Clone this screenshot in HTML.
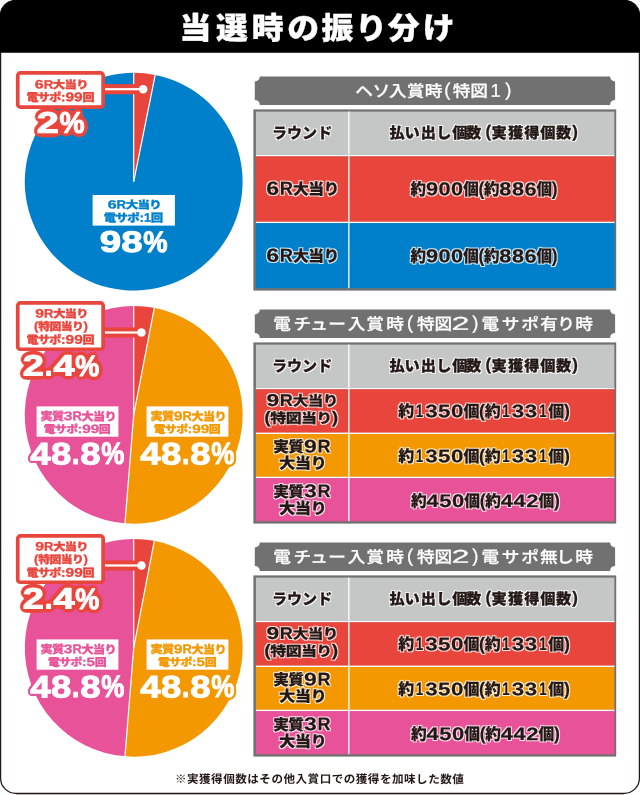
<!DOCTYPE html>
<html lang="ja">
<head>
<meta charset="utf-8">
<title>当選時の振り分け</title>
<style>
html,body{margin:0;padding:0;background:#fff;}
body{width:640px;height:795px;overflow:hidden;font-family:"Liberation Sans","Noto Sans CJK JP",sans-serif;}
svg{display:block;font-family:"Liberation Sans","Noto Sans CJK JP",sans-serif;}
text{white-space:pre;}
</style>
</head>
<body>
<svg width="640" height="795" viewBox="0 0 640 795">
<defs>
<filter id="oR" x="-15%" y="-30%" width="130%" height="160%" color-interpolation-filters="sRGB"><feGaussianBlur in="SourceAlpha" stdDeviation="2.5" result="b"/><feComponentTransfer in="b" result="t"><feFuncA type="linear" slope="18" intercept="-0.58"/></feComponentTransfer><feFlood flood-color="#e8453c"/><feComposite operator="in" in2="t" result="o"/><feMerge><feMergeNode in="o"/><feMergeNode in="SourceGraphic"/></feMerge></filter>
<filter id="oP" x="-15%" y="-30%" width="130%" height="160%" color-interpolation-filters="sRGB"><feGaussianBlur in="SourceAlpha" stdDeviation="1.8" result="b"/><feComponentTransfer in="b" result="t"><feFuncA type="linear" slope="18" intercept="-0.58"/></feComponentTransfer><feFlood flood-color="#e85298"/><feComposite operator="in" in2="t" result="o"/><feMerge><feMergeNode in="o"/><feMergeNode in="SourceGraphic"/></feMerge></filter>
<filter id="oO" x="-15%" y="-30%" width="130%" height="160%" color-interpolation-filters="sRGB"><feGaussianBlur in="SourceAlpha" stdDeviation="1.8" result="b"/><feComponentTransfer in="b" result="t"><feFuncA type="linear" slope="18" intercept="-0.58"/></feComponentTransfer><feFlood flood-color="#f39800"/><feComposite operator="in" in2="t" result="o"/><feMerge><feMergeNode in="o"/><feMergeNode in="SourceGraphic"/></feMerge></filter>
<filter id="ow" x="-2%" y="-2%" width="104%" height="104%" color-interpolation-filters="sRGB"><feMorphology in="SourceAlpha" operator="dilate" radius="0.5" result="d"/><feGaussianBlur in="d" stdDeviation="0.4" result="b"/><feFlood flood-color="#fff" flood-opacity="0.85"/><feComposite operator="in" in2="b" result="o"/><feMerge><feMergeNode in="o"/><feMergeNode in="SourceGraphic"/></feMerge></filter>
</defs>
<rect x="16" y="794" width="608" height="1" fill="#b4b4b4"/>
<rect x="0.6" y="0.6" width="638.8" height="792.7" rx="15" fill="#fff" stroke="#231815" stroke-width="1.25"/>
<path d="M0 52.8V15.5A15.5 15.5 0 0 1 15.5 0H624.5A15.5 15.5 0 0 1 640 15.5V52.8Z" fill="#000"/>
<text y="39" fill="#fff" font-size="30.6" font-weight="900" stroke="#fff" stroke-width="0.4" stroke-linejoin="round" transform="rotate(0.03 317.18 39)"><tspan x="179.49" y="39" textLength="31.82" lengthAdjust="spacingAndGlyphs">当</tspan><tspan x="215.95" y="39" textLength="31.82" lengthAdjust="spacingAndGlyphs">選</tspan><tspan x="251.75" y="39" textLength="31.82" lengthAdjust="spacingAndGlyphs">時</tspan><tspan x="287.39" y="39" textLength="31.82" lengthAdjust="spacingAndGlyphs">の</tspan><tspan x="321.51" y="39" textLength="31.82" lengthAdjust="spacingAndGlyphs">振</tspan><tspan x="355.26" y="39" textLength="31.82" lengthAdjust="spacingAndGlyphs">り</tspan><tspan x="387.88" y="39" textLength="31.82" lengthAdjust="spacingAndGlyphs">分</tspan><tspan x="422.8" y="39" textLength="31.82" lengthAdjust="spacingAndGlyphs">け</tspan></text>
<path d="M133.7 181.7L155.22 74.95A108.9 108.9 0 1 1 133.7 72.8Z" fill="#0080cb"/>
<path d="M133.7 181.7L133.7 72.8A108.9 108.9 0 0 1 155.22 74.95Z" fill="#e8453c"/>
<line x1="133.7" y1="181.7" x2="133.7" y2="72.3" stroke="#fff" stroke-width="1.2"/>
<line x1="133.7" y1="181.7" x2="155.32" y2="74.46" stroke="#fff" stroke-width="1.2"/>
<rect x="100" y="84.1" width="43.2" height="10.2" fill="#e8453c"/>
<circle cx="143.2" cy="89.2" r="6.3" fill="#e8453c"/>
<rect x="100" y="88.1" width="43.2" height="2.2" fill="#fff"/>
<circle cx="143.2" cy="89.2" r="4.3" fill="#fff"/>
<rect x="17.75" y="72.95" width="85.4" height="34.1" rx="2.6" fill="#fff" stroke="#e8453c" stroke-width="3.7"/>
<text y="88.54" fill="#e8453c" stroke="#e8453c" stroke-width="0.3" transform="rotate(0.03 61.53 88.54)"><tspan x="34.8" font-size="12.16" font-weight="700" textLength="8.87" lengthAdjust="spacingAndGlyphs">6</tspan><tspan x="43.67" font-size="12.16" font-weight="700" textLength="9.51" lengthAdjust="spacingAndGlyphs">R</tspan><tspan x="52.84" font-size="10.86" font-weight="900" letter-spacing="-0.6" textLength="35.08" lengthAdjust="spacingAndGlyphs">大当り</tspan></text>
<text y="101.3" fill="#e8453c" stroke="#e8453c" stroke-width="0.3" transform="rotate(0.03 60.44 101.3)"><tspan x="26.4" font-size="11.18" font-weight="900" letter-spacing="-0.6" textLength="34.24" lengthAdjust="spacingAndGlyphs">電サポ</tspan><tspan x="60.96" font-size="12.52" font-weight="700" textLength="4.5" lengthAdjust="spacingAndGlyphs">:</tspan><tspan x="65.46" font-size="12.52" font-weight="700" textLength="17.28" lengthAdjust="spacingAndGlyphs">99</tspan><tspan x="82.42" font-size="11.18" font-weight="900" letter-spacing="-0.6" textLength="11.41" lengthAdjust="spacingAndGlyphs">回</tspan></text>
<g filter="url(#oR)"><text y="132.8" fill="#fff" stroke="#fff" stroke-width="1" stroke-linejoin="round" transform="rotate(0.03 60.84 132.8)"><tspan x="36.82" font-size="29.66" font-weight="700" letter-spacing="0.25" textLength="22.34" lengthAdjust="spacingAndGlyphs">2</tspan><tspan x="59.46" font-size="29.66" font-weight="700" letter-spacing="1" textLength="26.04" lengthAdjust="spacingAndGlyphs">%</tspan></text></g>
<rect x="92.6" y="195" width="82.3" height="30.6" fill="#fff"/>
<text y="208.46" fill="#0080cb" stroke="#0080cb" stroke-width="0.3" transform="rotate(0.03 134.58 208.46)"><tspan x="107.7" font-size="11.87" font-weight="700" textLength="8.93" lengthAdjust="spacingAndGlyphs">6</tspan><tspan x="116.62" font-size="11.87" font-weight="700" textLength="9.58" lengthAdjust="spacingAndGlyphs">R</tspan><tspan x="125.85" font-size="10.6" font-weight="900" letter-spacing="-0.6" textLength="35.27" lengthAdjust="spacingAndGlyphs">大当り</tspan></text>
<text y="221.71" fill="#0080cb" stroke="#0080cb" stroke-width="0.3" transform="rotate(0.03 133.44 221.71)"><tspan x="103.78" font-size="11.12" font-weight="900" letter-spacing="-0.6" textLength="35.29" lengthAdjust="spacingAndGlyphs">電サポ</tspan><tspan x="139.4" font-size="12.46" font-weight="700" textLength="4.64" lengthAdjust="spacingAndGlyphs">:</tspan><tspan x="144.04" font-size="12.46" font-weight="700" textLength="6.97" lengthAdjust="spacingAndGlyphs">1</tspan><tspan x="150.67" font-size="11.12" font-weight="900" letter-spacing="-0.6" textLength="11.76" lengthAdjust="spacingAndGlyphs">回</tspan></text>
<text y="251.9" fill="#fff" stroke="#fff" stroke-width="1" stroke-linejoin="round" transform="rotate(0.03 133.84 251.9)"><tspan x="99.76" font-size="29.66" font-weight="700" letter-spacing="0.25" textLength="43.27" lengthAdjust="spacingAndGlyphs">98</tspan><tspan x="143.33" font-size="29.66" font-weight="700" letter-spacing="1" textLength="25.22" lengthAdjust="spacingAndGlyphs">%</tspan></text>
<path d="M259.8 76.4H610.1A5 5 0 0 0 615.1 81.4V99.9A5 5 0 0 0 610.1 104.9H259.8A5 5 0 0 0 254.8 99.9V81.4A5 5 0 0 0 259.8 76.4Z" fill="#727171"/>
<text y="96.8" fill="#fff" font-size="16.2" font-weight="500" stroke="#fff" stroke-width="0.25" transform="rotate(0.03 436 96.8)"><tspan x="355.18" y="96.8" textLength="17.66" lengthAdjust="spacingAndGlyphs">ヘ</tspan><tspan x="372.64" y="96.8" textLength="17.66" lengthAdjust="spacingAndGlyphs">ソ</tspan><tspan x="389.05" y="96.8" textLength="17.66" lengthAdjust="spacingAndGlyphs">入</tspan><tspan x="406.77" y="96.8" textLength="17.66" lengthAdjust="spacingAndGlyphs">賞</tspan><tspan x="424.66" y="96.8" textLength="17.66" lengthAdjust="spacingAndGlyphs">時</tspan><tspan x="444.22" y="95.9" font-size="18.5" font-weight="400" textLength="6.16" lengthAdjust="spacingAndGlyphs">(</tspan><tspan x="452.68" y="96.8" textLength="17.66" lengthAdjust="spacingAndGlyphs">特</tspan><tspan x="470.35" y="96.8" textLength="17.66" lengthAdjust="spacingAndGlyphs">図</tspan><tspan x="490.61" y="96.8" font-size="18.5" font-weight="400" textLength="10.29" lengthAdjust="spacingAndGlyphs">1</tspan><tspan x="505.33" y="95.9" font-size="18.5" font-weight="400" textLength="6.16" lengthAdjust="spacingAndGlyphs">)</tspan></text>
<rect x="253.4" y="109.4" width="362.8" height="181.2" fill="#727171"/>
<rect x="255.9" y="154.5" width="358.5" height="2.1" fill="#fff"/>
<rect x="255.9" y="221.3" width="358.5" height="2.1" fill="#fff"/>
<rect x="255.9" y="111.6" width="358.5" height="43.2" fill="#c5c6c6"/>
<rect x="255.9" y="156.3" width="358.5" height="65.3" fill="#e8453c"/>
<rect x="255.9" y="223.1" width="358.5" height="65.1" fill="#0080cb"/>
<rect x="348.2" y="111.6" width="1.3" height="176.6" fill="#fff"/>
<g filter="url(#ow)">
<text y="194.58" fill="#231815" stroke="#231815" stroke-width="0.2" stroke-linejoin="round" transform="rotate(0.03 302.42 194.58)"><tspan x="266.23" y="194.88" font-size="18.95" font-weight="700" letter-spacing="0.6" textLength="13.63" lengthAdjust="spacingAndGlyphs">6</tspan><tspan x="279.78" y="194.88" font-size="18.95" font-weight="700" letter-spacing="0.6" textLength="13.83" lengthAdjust="spacingAndGlyphs">R</tspan><tspan x="293.02" y="194.58" font-size="15.53" font-weight="900" letter-spacing="-0.6" textLength="45.66" lengthAdjust="spacingAndGlyphs">大当り</tspan></text>
<text y="195.06" fill="#231815" stroke="#231815" stroke-width="0.2" stroke-linejoin="round" transform="rotate(0.03 484.18 195.06)"><tspan x="410.59" y="195.06" font-size="16.68" font-weight="900" letter-spacing="-0.6" textLength="14.95" lengthAdjust="spacingAndGlyphs">約</tspan><tspan x="426.06" y="195.36" font-size="18.69" font-weight="700" letter-spacing="0.4" textLength="37.62" lengthAdjust="spacingAndGlyphs">900</tspan><tspan x="463.16" y="195.06" font-size="16.68" font-weight="900" letter-spacing="-0.6" textLength="14.95" lengthAdjust="spacingAndGlyphs">個</tspan><tspan x="478.39" y="195.06" font-size="18.69" font-weight="700" textLength="5.78" lengthAdjust="spacingAndGlyphs">(</tspan><tspan x="483.9" y="195.06" font-size="16.68" font-weight="900" letter-spacing="-0.6" textLength="14.95" lengthAdjust="spacingAndGlyphs">約</tspan><tspan x="499.36" y="195.36" font-size="18.69" font-weight="700" letter-spacing="0.4" textLength="37.62" lengthAdjust="spacingAndGlyphs">886</tspan><tspan x="536.47" y="195.06" font-size="16.68" font-weight="900" letter-spacing="-0.6" textLength="14.95" lengthAdjust="spacingAndGlyphs">個</tspan><tspan x="551.69" y="195.06" font-size="18.69" font-weight="700" textLength="5.78" lengthAdjust="spacingAndGlyphs">)</tspan></text>
<text y="261.58" fill="#231815" stroke="#231815" stroke-width="0.2" stroke-linejoin="round" transform="rotate(0.03 302.42 261.58)"><tspan x="266.23" y="261.88" font-size="18.95" font-weight="700" letter-spacing="0.6" textLength="13.63" lengthAdjust="spacingAndGlyphs">6</tspan><tspan x="279.78" y="261.88" font-size="18.95" font-weight="700" letter-spacing="0.6" textLength="13.83" lengthAdjust="spacingAndGlyphs">R</tspan><tspan x="293.02" y="261.58" font-size="15.53" font-weight="900" letter-spacing="-0.6" textLength="45.66" lengthAdjust="spacingAndGlyphs">大当り</tspan></text>
<text y="262.06" fill="#231815" stroke="#231815" stroke-width="0.2" stroke-linejoin="round" transform="rotate(0.03 484.18 262.06)"><tspan x="410.59" y="262.06" font-size="16.68" font-weight="900" letter-spacing="-0.6" textLength="14.95" lengthAdjust="spacingAndGlyphs">約</tspan><tspan x="426.06" y="262.36" font-size="18.69" font-weight="700" letter-spacing="0.4" textLength="37.62" lengthAdjust="spacingAndGlyphs">900</tspan><tspan x="463.16" y="262.06" font-size="16.68" font-weight="900" letter-spacing="-0.6" textLength="14.95" lengthAdjust="spacingAndGlyphs">個</tspan><tspan x="478.39" y="262.06" font-size="18.69" font-weight="700" textLength="5.78" lengthAdjust="spacingAndGlyphs">(</tspan><tspan x="483.9" y="262.06" font-size="16.68" font-weight="900" letter-spacing="-0.6" textLength="14.95" lengthAdjust="spacingAndGlyphs">約</tspan><tspan x="499.36" y="262.36" font-size="18.69" font-weight="700" letter-spacing="0.4" textLength="37.62" lengthAdjust="spacingAndGlyphs">886</tspan><tspan x="536.47" y="262.06" font-size="16.68" font-weight="900" letter-spacing="-0.6" textLength="14.95" lengthAdjust="spacingAndGlyphs">個</tspan><tspan x="551.69" y="262.06" font-size="18.69" font-weight="700" textLength="5.78" lengthAdjust="spacingAndGlyphs">)</tspan></text>
<text y="138.6" fill="#231815" stroke="#231815" stroke-width="0.2" stroke-linejoin="round" transform="rotate(0.03 302.11 138.6)"><tspan x="272.02" y="138.6" font-size="15.32" font-weight="900" textLength="60.17" lengthAdjust="spacingAndGlyphs">ラウンド</tspan></text>
<text y="138.3" fill="#231815" font-size="15.2" font-weight="900" stroke="#231815" stroke-width="0.3" stroke-linejoin="round" transform="rotate(0.03 485.85 138.3)"><tspan x="389.44 404.52 420.76 436.37 452.14 466.08" y="138.3">払い出し個数</tspan><tspan x="485.47" y="137.1" font-size="17" font-weight="700" textLength="5.66" lengthAdjust="spacingAndGlyphs">(</tspan><tspan x="491.52 507.88 524.27 540.34 555.98" y="138.3">実獲得個数</tspan><tspan x="572.18" y="137.1" font-size="17" font-weight="700" textLength="5.66" lengthAdjust="spacingAndGlyphs">)</tspan></text>
</g>
<path d="M133.7 414.8L124.97 523.35A108.9 108.9 0 0 1 133.7 305.9Z" fill="#e85298"/>
<path d="M133.7 414.8L154.29 307.86A108.9 108.9 0 0 1 124.97 523.35Z" fill="#f39800"/>
<path d="M133.7 414.8L133.7 305.9A108.9 108.9 0 0 1 154.29 307.86Z" fill="#e8453c"/>
<line x1="133.7" y1="414.8" x2="133.7" y2="305.4" stroke="#fff" stroke-width="1.2"/>
<line x1="133.7" y1="414.8" x2="154.39" y2="307.37" stroke="#fff" stroke-width="1.2"/>
<line x1="133.7" y1="414.8" x2="124.93" y2="523.85" stroke="#fff" stroke-width="1.2"/>
<rect x="100" y="327.4" width="41.4" height="10.2" fill="#e8453c"/>
<circle cx="141.4" cy="332.5" r="6.3" fill="#e8453c"/>
<rect x="100" y="331.4" width="41.4" height="2.2" fill="#fff"/>
<circle cx="141.4" cy="332.5" r="4.3" fill="#fff"/>
<rect x="17.75" y="302.95" width="85.4" height="46.3" rx="2.6" fill="#fff" stroke="#e8453c" stroke-width="3.7"/>
<text y="317.53" fill="#e8453c" stroke="#e8453c" stroke-width="0.3" transform="rotate(0.03 61.8 317.53)"><tspan x="35.35" font-size="12.22" font-weight="700" textLength="8.77" lengthAdjust="spacingAndGlyphs">9</tspan><tspan x="44.12" font-size="12.22" font-weight="700" textLength="9.41" lengthAdjust="spacingAndGlyphs">R</tspan><tspan x="53.19" font-size="10.91" font-weight="900" letter-spacing="-0.6" textLength="34.72" lengthAdjust="spacingAndGlyphs">大当り</tspan></text>
<text y="330.33" fill="#e8453c" stroke="#e8453c" stroke-width="0.3" transform="rotate(0.03 61 330.33)"><tspan x="34.14" font-size="12.22" font-weight="700" textLength="4.43" lengthAdjust="spacingAndGlyphs">(</tspan><tspan x="38.24" font-size="10.91" font-weight="900" letter-spacing="-0.6" textLength="44.88" lengthAdjust="spacingAndGlyphs">特図当り</tspan><tspan x="83.44" font-size="12.22" font-weight="700" textLength="4.43" lengthAdjust="spacingAndGlyphs">)</tspan></text>
<text y="343.8" fill="#e8453c" stroke="#e8453c" stroke-width="0.3" transform="rotate(0.03 60.49 343.8)"><tspan x="26.5" font-size="11.18" font-weight="900" letter-spacing="-0.6" textLength="34.19" lengthAdjust="spacingAndGlyphs">電サポ</tspan><tspan x="61.01" font-size="12.52" font-weight="700" textLength="4.49" lengthAdjust="spacingAndGlyphs">:</tspan><tspan x="65.51" font-size="12.52" font-weight="700" textLength="17.26" lengthAdjust="spacingAndGlyphs">99</tspan><tspan x="82.44" font-size="11.18" font-weight="900" letter-spacing="-0.6" textLength="11.4" lengthAdjust="spacingAndGlyphs">回</tspan></text>
<g filter="url(#oR)"><text y="375.51" fill="#fff" stroke="#fff" stroke-width="1" stroke-linejoin="round" transform="rotate(0.03 61.2 375.51)"><tspan x="22.77" font-size="29.38" font-weight="700" letter-spacing="0.25" textLength="21.44" lengthAdjust="spacingAndGlyphs">2</tspan><tspan x="44.81" font-size="29.38" font-weight="700" letter-spacing="1.6" textLength="9.29" lengthAdjust="spacingAndGlyphs">.</tspan><tspan x="53.5" font-size="29.38" font-weight="700" letter-spacing="0.25" textLength="21.44" lengthAdjust="spacingAndGlyphs">4</tspan><tspan x="75.24" font-size="29.38" font-weight="700" letter-spacing="1" textLength="25" lengthAdjust="spacingAndGlyphs">%</tspan></text></g>
<rect x="36.6" y="406.4" width="81.8" height="30.3" fill="#fff"/>
<text y="420.39" fill="#e85298" stroke="#e85298" stroke-width="0.3" transform="rotate(0.03 78.63 420.39)"><tspan x="40.48" font-size="11.33" font-weight="900" letter-spacing="-0.6" textLength="23.03" lengthAdjust="spacingAndGlyphs">実質</tspan><tspan x="63.84" font-size="12.69" font-weight="700" textLength="8.71" lengthAdjust="spacingAndGlyphs">3</tspan><tspan x="72.55" font-size="12.69" font-weight="700" textLength="9.34" lengthAdjust="spacingAndGlyphs">R</tspan><tspan x="81.57" font-size="11.33" font-weight="900" letter-spacing="-0.6" textLength="34.55" lengthAdjust="spacingAndGlyphs">大当り</tspan></text>
<text y="432.94" fill="#e85298" stroke="#e85298" stroke-width="0.3" transform="rotate(0.03 77.24 432.94)"><tspan x="43.81" font-size="10.81" font-weight="900" letter-spacing="-0.6" textLength="33.6" lengthAdjust="spacingAndGlyphs">電サポ</tspan><tspan x="77.73" font-size="12.1" font-weight="700" textLength="4.42" lengthAdjust="spacingAndGlyphs">:</tspan><tspan x="82.15" font-size="12.1" font-weight="700" textLength="16.99" lengthAdjust="spacingAndGlyphs">99</tspan><tspan x="98.81" font-size="10.81" font-weight="900" letter-spacing="-0.6" textLength="11.2" lengthAdjust="spacingAndGlyphs">回</tspan></text>
<g filter="url(#oP)"><text y="464.49" fill="#fff" stroke="#fff" stroke-width="1" stroke-linejoin="round" transform="rotate(0.03 77.51 464.49)"><tspan x="30.35" font-size="31.21" font-weight="700" letter-spacing="0.25" textLength="41.19" lengthAdjust="spacingAndGlyphs">48</tspan><tspan x="72.08" font-size="31.21" font-weight="700" letter-spacing="1.6" textLength="8.84" lengthAdjust="spacingAndGlyphs">.</tspan><tspan x="80.38" font-size="31.21" font-weight="700" letter-spacing="0.25" textLength="20.59" lengthAdjust="spacingAndGlyphs">8</tspan><tspan x="101.25" font-size="31.21" font-weight="700" letter-spacing="1" textLength="23.98" lengthAdjust="spacingAndGlyphs">%</tspan></text></g>
<rect x="146.6" y="406.4" width="81.8" height="30.3" fill="#fff"/>
<text y="420.39" fill="#f39800" stroke="#f39800" stroke-width="0.3" transform="rotate(0.03 188.63 420.39)"><tspan x="150.48" font-size="11.33" font-weight="900" letter-spacing="-0.6" textLength="23.03" lengthAdjust="spacingAndGlyphs">実質</tspan><tspan x="173.84" font-size="12.69" font-weight="700" textLength="8.71" lengthAdjust="spacingAndGlyphs">9</tspan><tspan x="182.55" font-size="12.69" font-weight="700" textLength="9.34" lengthAdjust="spacingAndGlyphs">R</tspan><tspan x="191.57" font-size="11.33" font-weight="900" letter-spacing="-0.6" textLength="34.55" lengthAdjust="spacingAndGlyphs">大当り</tspan></text>
<text y="432.94" fill="#f39800" stroke="#f39800" stroke-width="0.3" transform="rotate(0.03 187.24 432.94)"><tspan x="153.81" font-size="10.81" font-weight="900" letter-spacing="-0.6" textLength="33.6" lengthAdjust="spacingAndGlyphs">電サポ</tspan><tspan x="187.73" font-size="12.1" font-weight="700" textLength="4.42" lengthAdjust="spacingAndGlyphs">:</tspan><tspan x="192.15" font-size="12.1" font-weight="700" textLength="16.99" lengthAdjust="spacingAndGlyphs">99</tspan><tspan x="208.81" font-size="10.81" font-weight="900" letter-spacing="-0.6" textLength="11.2" lengthAdjust="spacingAndGlyphs">回</tspan></text>
<g filter="url(#oO)"><text y="464.49" fill="#fff" stroke="#fff" stroke-width="1" stroke-linejoin="round" transform="rotate(0.03 187.51 464.49)"><tspan x="140.35" font-size="31.21" font-weight="700" letter-spacing="0.25" textLength="41.19" lengthAdjust="spacingAndGlyphs">48</tspan><tspan x="182.08" font-size="31.21" font-weight="700" letter-spacing="1.6" textLength="8.84" lengthAdjust="spacingAndGlyphs">.</tspan><tspan x="190.38" font-size="31.21" font-weight="700" letter-spacing="0.25" textLength="20.59" lengthAdjust="spacingAndGlyphs">8</tspan><tspan x="211.25" font-size="31.21" font-weight="700" letter-spacing="1" textLength="23.98" lengthAdjust="spacingAndGlyphs">%</tspan></text></g>
<path d="M259.8 309.4H610.1A5 5 0 0 0 615.1 314.4V332.9A5 5 0 0 0 610.1 337.9H259.8A5 5 0 0 0 254.8 332.9V314.4A5 5 0 0 0 259.8 309.4Z" fill="#727171"/>
<text y="329.8" fill="#fff" font-size="16.2" font-weight="500" stroke="#fff" stroke-width="0.25" transform="rotate(0.03 433.5 329.8)"><tspan x="273.34" y="329.8" textLength="17.66" lengthAdjust="spacingAndGlyphs">電</tspan><tspan x="293.63" y="329.8" textLength="17.66" lengthAdjust="spacingAndGlyphs">チ</tspan><tspan x="310.23" y="329.8" textLength="17.66" lengthAdjust="spacingAndGlyphs">ュ</tspan><tspan x="328.17" y="329.8" textLength="17.66" lengthAdjust="spacingAndGlyphs">ー</tspan><tspan x="347.85" y="329.8" textLength="17.66" lengthAdjust="spacingAndGlyphs">入</tspan><tspan x="366.37" y="329.8" textLength="17.66" lengthAdjust="spacingAndGlyphs">賞</tspan><tspan x="386.26" y="329.8" textLength="17.66" lengthAdjust="spacingAndGlyphs">時</tspan><tspan x="407.12" y="328.9" font-size="18.5" font-weight="400" textLength="6.16" lengthAdjust="spacingAndGlyphs">(</tspan><tspan x="416.98" y="329.8" textLength="17.66" lengthAdjust="spacingAndGlyphs">特</tspan><tspan x="434.55" y="329.8" textLength="17.66" lengthAdjust="spacingAndGlyphs">図</tspan><tspan x="451.62" y="329.8" font-size="18.5" font-weight="400" textLength="18.01" lengthAdjust="spacingAndGlyphs">2</tspan><tspan x="472.23" y="328.9" font-size="18.5" font-weight="400" textLength="6.16" lengthAdjust="spacingAndGlyphs">)</tspan><tspan x="481.54" y="329.8" textLength="17.66" lengthAdjust="spacingAndGlyphs">電</tspan><tspan x="501.78" y="329.8" textLength="17.66" lengthAdjust="spacingAndGlyphs">サ</tspan><tspan x="521.18" y="329.8" textLength="17.66" lengthAdjust="spacingAndGlyphs">ポ</tspan><tspan x="540.17" y="329.8" textLength="17.66" lengthAdjust="spacingAndGlyphs">有</tspan><tspan x="557.38" y="329.8" textLength="17.66" lengthAdjust="spacingAndGlyphs">り</tspan><tspan x="575.36" y="329.8" textLength="17.66" lengthAdjust="spacingAndGlyphs">時</tspan></text>
<rect x="253.4" y="342.4" width="362.8" height="181.2" fill="#727171"/>
<rect x="255.9" y="387.5" width="358.5" height="2.1" fill="#fff"/>
<rect x="255.9" y="432.2" width="358.5" height="2.1" fill="#fff"/>
<rect x="255.9" y="476.3" width="358.5" height="2.1" fill="#fff"/>
<rect x="255.9" y="344.6" width="358.5" height="43.2" fill="#c5c6c6"/>
<rect x="255.9" y="389.2" width="358.5" height="43.3" fill="#e8453c"/>
<rect x="255.9" y="434" width="358.5" height="42.6" fill="#f39800"/>
<rect x="255.9" y="478.1" width="358.5" height="43.1" fill="#e85298"/>
<rect x="348.2" y="344.6" width="1.3" height="176.6" fill="#fff"/>
<g filter="url(#ow)">
<text y="405.72" fill="#231815" stroke="#231815" stroke-width="0.2" stroke-linejoin="round" transform="rotate(0.03 302.04 405.72)"><tspan x="266.4" y="406.02" font-size="17.15" font-weight="700" letter-spacing="0.6" textLength="13.52" lengthAdjust="spacingAndGlyphs">9</tspan><tspan x="279.83" y="406.02" font-size="17.15" font-weight="700" letter-spacing="0.6" textLength="13.7" lengthAdjust="spacingAndGlyphs">R</tspan><tspan x="292.89" y="405.72" font-size="14.06" font-weight="900" letter-spacing="-0.6" textLength="44.85" lengthAdjust="spacingAndGlyphs">大当り</tspan></text>
<text y="423.06" fill="#231815" stroke="#231815" stroke-width="0.2" stroke-linejoin="round" transform="rotate(0.03 301.25 423.06)"><tspan x="264.23" y="423.06" font-size="16.64" font-weight="700" textLength="6.49" lengthAdjust="spacingAndGlyphs">(</tspan><tspan x="270.36" y="423.06" font-size="13.64" font-weight="900" letter-spacing="-0.6" textLength="61.08" lengthAdjust="spacingAndGlyphs">特図当り</tspan><tspan x="331.8" y="423.06" font-size="16.64" font-weight="700" textLength="6.49" lengthAdjust="spacingAndGlyphs">)</tspan></text>
<text y="416.92" fill="#231815" stroke="#231815" stroke-width="0.2" stroke-linejoin="round" transform="rotate(0.03 484.17 416.92)"><tspan x="398.14" y="416.92" font-size="16.16" font-weight="900" letter-spacing="-0.6" textLength="15.37" lengthAdjust="spacingAndGlyphs">約</tspan><tspan x="415.66" y="417.22" font-size="18.1" font-weight="700" letter-spacing="5" textLength="11.16" lengthAdjust="spacingAndGlyphs">1</tspan><tspan x="425.21" y="417.22" font-size="18.1" font-weight="700" letter-spacing="0.4" textLength="38.77" lengthAdjust="spacingAndGlyphs">350</tspan><tspan x="463.43" y="416.92" font-size="16.16" font-weight="900" letter-spacing="-0.6" textLength="15.37" lengthAdjust="spacingAndGlyphs">個</tspan><tspan x="479.1" y="416.92" font-size="18.1" font-weight="700" textLength="5.95" lengthAdjust="spacingAndGlyphs">(</tspan><tspan x="484.75" y="416.92" font-size="16.16" font-weight="900" letter-spacing="-0.6" textLength="15.37" lengthAdjust="spacingAndGlyphs">約</tspan><tspan x="502.27" y="417.22" font-size="18.1" font-weight="700" letter-spacing="5" textLength="11.16" lengthAdjust="spacingAndGlyphs">1</tspan><tspan x="511.83" y="417.22" font-size="18.1" font-weight="700" letter-spacing="0.4" textLength="25.84" lengthAdjust="spacingAndGlyphs">33</tspan><tspan x="539.27" y="417.22" font-size="18.1" font-weight="700" letter-spacing="5" textLength="11.16" lengthAdjust="spacingAndGlyphs">1</tspan><tspan x="548.29" y="416.92" font-size="16.16" font-weight="900" letter-spacing="-0.6" textLength="15.37" lengthAdjust="spacingAndGlyphs">個</tspan><tspan x="563.95" y="416.92" font-size="18.1" font-weight="700" textLength="5.95" lengthAdjust="spacingAndGlyphs">)</tspan></text>
<text y="452.12" fill="#231815" stroke="#231815" stroke-width="0.2" stroke-linejoin="round" transform="rotate(0.03 302.27 452.12)"><tspan x="273.23" y="452.12" font-size="15.11" font-weight="900" letter-spacing="-0.6" textLength="30.17" lengthAdjust="spacingAndGlyphs">実質</tspan><tspan x="304.09" y="452.42" font-size="18.43" font-weight="700" letter-spacing="0.6" textLength="13.54" lengthAdjust="spacingAndGlyphs">9</tspan><tspan x="317.55" y="452.42" font-size="18.43" font-weight="700" letter-spacing="0.6" textLength="13.74" lengthAdjust="spacingAndGlyphs">R</tspan></text>
<text y="468.52" fill="#231815" stroke="#231815" stroke-width="0.2" stroke-linejoin="round" transform="rotate(0.03 302.95 468.52)"><tspan x="279.13" y="468.52" font-size="15.11" font-weight="900" letter-spacing="-0.6" textLength="47" lengthAdjust="spacingAndGlyphs">大当り</tspan></text>
<text y="461.92" fill="#231815" stroke="#231815" stroke-width="0.2" stroke-linejoin="round" transform="rotate(0.03 484.17 461.92)"><tspan x="398.14" y="461.92" font-size="16.16" font-weight="900" letter-spacing="-0.6" textLength="15.37" lengthAdjust="spacingAndGlyphs">約</tspan><tspan x="415.66" y="462.22" font-size="18.1" font-weight="700" letter-spacing="5" textLength="11.16" lengthAdjust="spacingAndGlyphs">1</tspan><tspan x="425.21" y="462.22" font-size="18.1" font-weight="700" letter-spacing="0.4" textLength="38.77" lengthAdjust="spacingAndGlyphs">350</tspan><tspan x="463.43" y="461.92" font-size="16.16" font-weight="900" letter-spacing="-0.6" textLength="15.37" lengthAdjust="spacingAndGlyphs">個</tspan><tspan x="479.1" y="461.92" font-size="18.1" font-weight="700" textLength="5.95" lengthAdjust="spacingAndGlyphs">(</tspan><tspan x="484.75" y="461.92" font-size="16.16" font-weight="900" letter-spacing="-0.6" textLength="15.37" lengthAdjust="spacingAndGlyphs">約</tspan><tspan x="502.27" y="462.22" font-size="18.1" font-weight="700" letter-spacing="5" textLength="11.16" lengthAdjust="spacingAndGlyphs">1</tspan><tspan x="511.83" y="462.22" font-size="18.1" font-weight="700" letter-spacing="0.4" textLength="25.84" lengthAdjust="spacingAndGlyphs">33</tspan><tspan x="539.27" y="462.22" font-size="18.1" font-weight="700" letter-spacing="5" textLength="11.16" lengthAdjust="spacingAndGlyphs">1</tspan><tspan x="548.29" y="461.92" font-size="16.16" font-weight="900" letter-spacing="-0.6" textLength="15.37" lengthAdjust="spacingAndGlyphs">個</tspan><tspan x="563.95" y="461.92" font-size="18.1" font-weight="700" textLength="5.95" lengthAdjust="spacingAndGlyphs">)</tspan></text>
<text y="497.01" fill="#231815" stroke="#231815" stroke-width="0.2" stroke-linejoin="round" transform="rotate(0.03 302.27 497.01)"><tspan x="273.23" y="497.01" font-size="15.22" font-weight="900" letter-spacing="-0.6" textLength="30.18" lengthAdjust="spacingAndGlyphs">実質</tspan><tspan x="304.1" y="497.31" font-size="18.56" font-weight="700" letter-spacing="0.6" textLength="13.54" lengthAdjust="spacingAndGlyphs">3</tspan><tspan x="317.55" y="497.31" font-size="18.56" font-weight="700" letter-spacing="0.6" textLength="13.74" lengthAdjust="spacingAndGlyphs">R</tspan></text>
<text y="513.79" fill="#231815" stroke="#231815" stroke-width="0.2" stroke-linejoin="round" transform="rotate(0.03 302.95 513.79)"><tspan x="279.13" y="513.79" font-size="15.42" font-weight="900" letter-spacing="-0.6" textLength="47.01" lengthAdjust="spacingAndGlyphs">大当り</tspan></text>
<text y="506.81" fill="#231815" stroke="#231815" stroke-width="0.2" stroke-linejoin="round" transform="rotate(0.03 485.51 506.81)"><tspan x="410.94" y="506.81" font-size="16.26" font-weight="900" letter-spacing="-0.6" textLength="15.13" lengthAdjust="spacingAndGlyphs">約</tspan><tspan x="426.61" y="507.11" font-size="18.22" font-weight="700" letter-spacing="0.4" textLength="38.15" lengthAdjust="spacingAndGlyphs">450</tspan><tspan x="464.23" y="506.81" font-size="16.26" font-weight="900" letter-spacing="-0.6" textLength="15.13" lengthAdjust="spacingAndGlyphs">個</tspan><tspan x="479.65" y="506.81" font-size="18.22" font-weight="700" textLength="5.86" lengthAdjust="spacingAndGlyphs">(</tspan><tspan x="485.22" y="506.81" font-size="16.26" font-weight="900" letter-spacing="-0.6" textLength="15.13" lengthAdjust="spacingAndGlyphs">約</tspan><tspan x="500.88" y="507.11" font-size="18.22" font-weight="700" letter-spacing="0.4" textLength="38.15" lengthAdjust="spacingAndGlyphs">442</tspan><tspan x="538.51" y="506.81" font-size="16.26" font-weight="900" letter-spacing="-0.6" textLength="15.13" lengthAdjust="spacingAndGlyphs">個</tspan><tspan x="553.93" y="506.81" font-size="18.22" font-weight="700" textLength="5.86" lengthAdjust="spacingAndGlyphs">)</tspan></text>
<text y="371.6" fill="#231815" stroke="#231815" stroke-width="0.2" stroke-linejoin="round" transform="rotate(0.03 302.11 371.6)"><tspan x="272.02" y="371.6" font-size="15.32" font-weight="900" textLength="60.17" lengthAdjust="spacingAndGlyphs">ラウンド</tspan></text>
<text y="371.3" fill="#231815" font-size="15.2" font-weight="900" stroke="#231815" stroke-width="0.3" stroke-linejoin="round" transform="rotate(0.03 485.85 371.3)"><tspan x="389.44 404.52 420.76 436.37 452.14 466.08" y="371.3">払い出し個数</tspan><tspan x="485.47" y="370.1" font-size="17" font-weight="700" textLength="5.66" lengthAdjust="spacingAndGlyphs">(</tspan><tspan x="491.52 507.88 524.27 540.34 555.98" y="371.3">実獲得個数</tspan><tspan x="572.18" y="370.1" font-size="17" font-weight="700" textLength="5.66" lengthAdjust="spacingAndGlyphs">)</tspan></text>
</g>
<path d="M133.7 647.8L124.97 756.35A108.9 108.9 0 0 1 133.7 538.9Z" fill="#e85298"/>
<path d="M133.7 647.8L154.29 540.86A108.9 108.9 0 0 1 124.97 756.35Z" fill="#f39800"/>
<path d="M133.7 647.8L133.7 538.9A108.9 108.9 0 0 1 154.29 540.86Z" fill="#e8453c"/>
<line x1="133.7" y1="647.8" x2="133.7" y2="538.4" stroke="#fff" stroke-width="1.2"/>
<line x1="133.7" y1="647.8" x2="154.39" y2="540.37" stroke="#fff" stroke-width="1.2"/>
<line x1="133.7" y1="647.8" x2="124.93" y2="756.85" stroke="#fff" stroke-width="1.2"/>
<rect x="100" y="560.4" width="41.4" height="10.2" fill="#e8453c"/>
<circle cx="141.4" cy="565.5" r="6.3" fill="#e8453c"/>
<rect x="100" y="564.4" width="41.4" height="2.2" fill="#fff"/>
<circle cx="141.4" cy="565.5" r="4.3" fill="#fff"/>
<rect x="17.75" y="535.95" width="85.4" height="46.3" rx="2.6" fill="#fff" stroke="#e8453c" stroke-width="3.7"/>
<text y="550.53" fill="#e8453c" stroke="#e8453c" stroke-width="0.3" transform="rotate(0.03 61.8 550.53)"><tspan x="35.35" font-size="12.22" font-weight="700" textLength="8.77" lengthAdjust="spacingAndGlyphs">9</tspan><tspan x="44.12" font-size="12.22" font-weight="700" textLength="9.41" lengthAdjust="spacingAndGlyphs">R</tspan><tspan x="53.19" font-size="10.91" font-weight="900" letter-spacing="-0.6" textLength="34.72" lengthAdjust="spacingAndGlyphs">大当り</tspan></text>
<text y="563.33" fill="#e8453c" stroke="#e8453c" stroke-width="0.3" transform="rotate(0.03 61 563.33)"><tspan x="34.14" font-size="12.22" font-weight="700" textLength="4.43" lengthAdjust="spacingAndGlyphs">(</tspan><tspan x="38.24" font-size="10.91" font-weight="900" letter-spacing="-0.6" textLength="44.88" lengthAdjust="spacingAndGlyphs">特図当り</tspan><tspan x="83.44" font-size="12.22" font-weight="700" textLength="4.43" lengthAdjust="spacingAndGlyphs">)</tspan></text>
<text y="576.8" fill="#e8453c" stroke="#e8453c" stroke-width="0.3" transform="rotate(0.03 60.49 576.8)"><tspan x="26.5" font-size="11.18" font-weight="900" letter-spacing="-0.6" textLength="34.19" lengthAdjust="spacingAndGlyphs">電サポ</tspan><tspan x="61.01" font-size="12.52" font-weight="700" textLength="4.49" lengthAdjust="spacingAndGlyphs">:</tspan><tspan x="65.51" font-size="12.52" font-weight="700" textLength="17.26" lengthAdjust="spacingAndGlyphs">99</tspan><tspan x="82.44" font-size="11.18" font-weight="900" letter-spacing="-0.6" textLength="11.4" lengthAdjust="spacingAndGlyphs">回</tspan></text>
<g filter="url(#oR)"><text y="608.51" fill="#fff" stroke="#fff" stroke-width="1" stroke-linejoin="round" transform="rotate(0.03 61.2 608.51)"><tspan x="22.77" font-size="29.38" font-weight="700" letter-spacing="0.25" textLength="21.44" lengthAdjust="spacingAndGlyphs">2</tspan><tspan x="44.81" font-size="29.38" font-weight="700" letter-spacing="1.6" textLength="9.29" lengthAdjust="spacingAndGlyphs">.</tspan><tspan x="53.5" font-size="29.38" font-weight="700" letter-spacing="0.25" textLength="21.44" lengthAdjust="spacingAndGlyphs">4</tspan><tspan x="75.24" font-size="29.38" font-weight="700" letter-spacing="1" textLength="25" lengthAdjust="spacingAndGlyphs">%</tspan></text></g>
<rect x="36.6" y="639.4" width="81.8" height="30.3" fill="#fff"/>
<text y="653.39" fill="#e85298" stroke="#e85298" stroke-width="0.3" transform="rotate(0.03 78.63 653.39)"><tspan x="40.48" font-size="11.33" font-weight="900" letter-spacing="-0.6" textLength="23.03" lengthAdjust="spacingAndGlyphs">実質</tspan><tspan x="63.84" font-size="12.69" font-weight="700" textLength="8.71" lengthAdjust="spacingAndGlyphs">3</tspan><tspan x="72.55" font-size="12.69" font-weight="700" textLength="9.34" lengthAdjust="spacingAndGlyphs">R</tspan><tspan x="81.57" font-size="11.33" font-weight="900" letter-spacing="-0.6" textLength="34.55" lengthAdjust="spacingAndGlyphs">大当り</tspan></text>
<text y="665.94" fill="#e85298" stroke="#e85298" stroke-width="0.3" transform="rotate(0.03 77.34 665.94)"><tspan x="48.11" font-size="10.81" font-weight="900" letter-spacing="-0.6" textLength="33.65" lengthAdjust="spacingAndGlyphs">電サポ</tspan><tspan x="82.09" font-size="12.1" font-weight="700" textLength="4.43" lengthAdjust="spacingAndGlyphs">:</tspan><tspan x="86.52" font-size="12.1" font-weight="700" textLength="8.51" lengthAdjust="spacingAndGlyphs">5</tspan><tspan x="94.7" font-size="10.81" font-weight="900" letter-spacing="-0.6" textLength="11.22" lengthAdjust="spacingAndGlyphs">回</tspan></text>
<g filter="url(#oP)"><text y="697.49" fill="#fff" stroke="#fff" stroke-width="1" stroke-linejoin="round" transform="rotate(0.03 77.51 697.49)"><tspan x="30.35" font-size="31.21" font-weight="700" letter-spacing="0.25" textLength="41.19" lengthAdjust="spacingAndGlyphs">48</tspan><tspan x="72.08" font-size="31.21" font-weight="700" letter-spacing="1.6" textLength="8.84" lengthAdjust="spacingAndGlyphs">.</tspan><tspan x="80.38" font-size="31.21" font-weight="700" letter-spacing="0.25" textLength="20.59" lengthAdjust="spacingAndGlyphs">8</tspan><tspan x="101.25" font-size="31.21" font-weight="700" letter-spacing="1" textLength="23.98" lengthAdjust="spacingAndGlyphs">%</tspan></text></g>
<rect x="146.6" y="639.4" width="81.8" height="30.3" fill="#fff"/>
<text y="653.39" fill="#f39800" stroke="#f39800" stroke-width="0.3" transform="rotate(0.03 188.63 653.39)"><tspan x="150.48" font-size="11.33" font-weight="900" letter-spacing="-0.6" textLength="23.03" lengthAdjust="spacingAndGlyphs">実質</tspan><tspan x="173.84" font-size="12.69" font-weight="700" textLength="8.71" lengthAdjust="spacingAndGlyphs">9</tspan><tspan x="182.55" font-size="12.69" font-weight="700" textLength="9.34" lengthAdjust="spacingAndGlyphs">R</tspan><tspan x="191.57" font-size="11.33" font-weight="900" letter-spacing="-0.6" textLength="34.55" lengthAdjust="spacingAndGlyphs">大当り</tspan></text>
<text y="665.94" fill="#f39800" stroke="#f39800" stroke-width="0.3" transform="rotate(0.03 187.34 665.94)"><tspan x="158.11" font-size="10.81" font-weight="900" letter-spacing="-0.6" textLength="33.65" lengthAdjust="spacingAndGlyphs">電サポ</tspan><tspan x="192.09" font-size="12.1" font-weight="700" textLength="4.43" lengthAdjust="spacingAndGlyphs">:</tspan><tspan x="196.52" font-size="12.1" font-weight="700" textLength="8.51" lengthAdjust="spacingAndGlyphs">5</tspan><tspan x="204.7" font-size="10.81" font-weight="900" letter-spacing="-0.6" textLength="11.22" lengthAdjust="spacingAndGlyphs">回</tspan></text>
<g filter="url(#oO)"><text y="697.49" fill="#fff" stroke="#fff" stroke-width="1" stroke-linejoin="round" transform="rotate(0.03 187.51 697.49)"><tspan x="140.35" font-size="31.21" font-weight="700" letter-spacing="0.25" textLength="41.19" lengthAdjust="spacingAndGlyphs">48</tspan><tspan x="182.08" font-size="31.21" font-weight="700" letter-spacing="1.6" textLength="8.84" lengthAdjust="spacingAndGlyphs">.</tspan><tspan x="190.38" font-size="31.21" font-weight="700" letter-spacing="0.25" textLength="20.59" lengthAdjust="spacingAndGlyphs">8</tspan><tspan x="211.25" font-size="31.21" font-weight="700" letter-spacing="1" textLength="23.98" lengthAdjust="spacingAndGlyphs">%</tspan></text></g>
<path d="M259.8 542.4H610.1A5 5 0 0 0 615.1 547.4V565.9A5 5 0 0 0 610.1 570.9H259.8A5 5 0 0 0 254.8 565.9V547.4A5 5 0 0 0 259.8 542.4Z" fill="#727171"/>
<text y="562.8" fill="#fff" font-size="16.2" font-weight="500" stroke="#fff" stroke-width="0.25" transform="rotate(0.03 433.5 562.8)"><tspan x="273.34" y="562.8" textLength="17.66" lengthAdjust="spacingAndGlyphs">電</tspan><tspan x="293.63" y="562.8" textLength="17.66" lengthAdjust="spacingAndGlyphs">チ</tspan><tspan x="310.23" y="562.8" textLength="17.66" lengthAdjust="spacingAndGlyphs">ュ</tspan><tspan x="328.17" y="562.8" textLength="17.66" lengthAdjust="spacingAndGlyphs">ー</tspan><tspan x="347.85" y="562.8" textLength="17.66" lengthAdjust="spacingAndGlyphs">入</tspan><tspan x="366.37" y="562.8" textLength="17.66" lengthAdjust="spacingAndGlyphs">賞</tspan><tspan x="386.26" y="562.8" textLength="17.66" lengthAdjust="spacingAndGlyphs">時</tspan><tspan x="407.12" y="561.9" font-size="18.5" font-weight="400" textLength="6.16" lengthAdjust="spacingAndGlyphs">(</tspan><tspan x="416.98" y="562.8" textLength="17.66" lengthAdjust="spacingAndGlyphs">特</tspan><tspan x="434.55" y="562.8" textLength="17.66" lengthAdjust="spacingAndGlyphs">図</tspan><tspan x="451.62" y="562.8" font-size="18.5" font-weight="400" textLength="18.01" lengthAdjust="spacingAndGlyphs">2</tspan><tspan x="472.23" y="561.9" font-size="18.5" font-weight="400" textLength="6.16" lengthAdjust="spacingAndGlyphs">)</tspan><tspan x="481.54" y="562.8" textLength="17.66" lengthAdjust="spacingAndGlyphs">電</tspan><tspan x="501.78" y="562.8" textLength="17.66" lengthAdjust="spacingAndGlyphs">サ</tspan><tspan x="521.18" y="562.8" textLength="17.66" lengthAdjust="spacingAndGlyphs">ポ</tspan><tspan x="539.95" y="562.8" textLength="17.66" lengthAdjust="spacingAndGlyphs">無</tspan><tspan x="556.25" y="562.8" textLength="17.66" lengthAdjust="spacingAndGlyphs">し</tspan><tspan x="575.36" y="562.8" textLength="17.66" lengthAdjust="spacingAndGlyphs">時</tspan></text>
<rect x="253.4" y="575.4" width="362.8" height="181.2" fill="#727171"/>
<rect x="255.9" y="620.5" width="358.5" height="2.1" fill="#fff"/>
<rect x="255.9" y="665.2" width="358.5" height="2.1" fill="#fff"/>
<rect x="255.9" y="709.3" width="358.5" height="2.1" fill="#fff"/>
<rect x="255.9" y="577.6" width="358.5" height="43.2" fill="#c5c6c6"/>
<rect x="255.9" y="622.2" width="358.5" height="43.3" fill="#e8453c"/>
<rect x="255.9" y="667" width="358.5" height="42.6" fill="#f39800"/>
<rect x="255.9" y="711.1" width="358.5" height="43.1" fill="#e85298"/>
<rect x="348.2" y="577.6" width="1.3" height="176.6" fill="#fff"/>
<g filter="url(#ow)">
<text y="638.72" fill="#231815" stroke="#231815" stroke-width="0.2" stroke-linejoin="round" transform="rotate(0.03 302.04 638.72)"><tspan x="266.4" y="639.02" font-size="17.15" font-weight="700" letter-spacing="0.6" textLength="13.52" lengthAdjust="spacingAndGlyphs">9</tspan><tspan x="279.83" y="639.02" font-size="17.15" font-weight="700" letter-spacing="0.6" textLength="13.7" lengthAdjust="spacingAndGlyphs">R</tspan><tspan x="292.89" y="638.72" font-size="14.06" font-weight="900" letter-spacing="-0.6" textLength="44.85" lengthAdjust="spacingAndGlyphs">大当り</tspan></text>
<text y="656.06" fill="#231815" stroke="#231815" stroke-width="0.2" stroke-linejoin="round" transform="rotate(0.03 301.25 656.06)"><tspan x="264.23" y="656.06" font-size="16.64" font-weight="700" textLength="6.49" lengthAdjust="spacingAndGlyphs">(</tspan><tspan x="270.36" y="656.06" font-size="13.64" font-weight="900" letter-spacing="-0.6" textLength="61.08" lengthAdjust="spacingAndGlyphs">特図当り</tspan><tspan x="331.8" y="656.06" font-size="16.64" font-weight="700" textLength="6.49" lengthAdjust="spacingAndGlyphs">)</tspan></text>
<text y="649.92" fill="#231815" stroke="#231815" stroke-width="0.2" stroke-linejoin="round" transform="rotate(0.03 484.17 649.92)"><tspan x="398.14" y="649.92" font-size="16.16" font-weight="900" letter-spacing="-0.6" textLength="15.37" lengthAdjust="spacingAndGlyphs">約</tspan><tspan x="415.66" y="650.22" font-size="18.1" font-weight="700" letter-spacing="5" textLength="11.16" lengthAdjust="spacingAndGlyphs">1</tspan><tspan x="425.21" y="650.22" font-size="18.1" font-weight="700" letter-spacing="0.4" textLength="38.77" lengthAdjust="spacingAndGlyphs">350</tspan><tspan x="463.43" y="649.92" font-size="16.16" font-weight="900" letter-spacing="-0.6" textLength="15.37" lengthAdjust="spacingAndGlyphs">個</tspan><tspan x="479.1" y="649.92" font-size="18.1" font-weight="700" textLength="5.95" lengthAdjust="spacingAndGlyphs">(</tspan><tspan x="484.75" y="649.92" font-size="16.16" font-weight="900" letter-spacing="-0.6" textLength="15.37" lengthAdjust="spacingAndGlyphs">約</tspan><tspan x="502.27" y="650.22" font-size="18.1" font-weight="700" letter-spacing="5" textLength="11.16" lengthAdjust="spacingAndGlyphs">1</tspan><tspan x="511.83" y="650.22" font-size="18.1" font-weight="700" letter-spacing="0.4" textLength="25.84" lengthAdjust="spacingAndGlyphs">33</tspan><tspan x="539.27" y="650.22" font-size="18.1" font-weight="700" letter-spacing="5" textLength="11.16" lengthAdjust="spacingAndGlyphs">1</tspan><tspan x="548.29" y="649.92" font-size="16.16" font-weight="900" letter-spacing="-0.6" textLength="15.37" lengthAdjust="spacingAndGlyphs">個</tspan><tspan x="563.95" y="649.92" font-size="18.1" font-weight="700" textLength="5.95" lengthAdjust="spacingAndGlyphs">)</tspan></text>
<text y="685.12" fill="#231815" stroke="#231815" stroke-width="0.2" stroke-linejoin="round" transform="rotate(0.03 302.27 685.12)"><tspan x="273.23" y="685.12" font-size="15.11" font-weight="900" letter-spacing="-0.6" textLength="30.17" lengthAdjust="spacingAndGlyphs">実質</tspan><tspan x="304.09" y="685.42" font-size="18.43" font-weight="700" letter-spacing="0.6" textLength="13.54" lengthAdjust="spacingAndGlyphs">9</tspan><tspan x="317.55" y="685.42" font-size="18.43" font-weight="700" letter-spacing="0.6" textLength="13.74" lengthAdjust="spacingAndGlyphs">R</tspan></text>
<text y="701.52" fill="#231815" stroke="#231815" stroke-width="0.2" stroke-linejoin="round" transform="rotate(0.03 302.95 701.52)"><tspan x="279.13" y="701.52" font-size="15.11" font-weight="900" letter-spacing="-0.6" textLength="47" lengthAdjust="spacingAndGlyphs">大当り</tspan></text>
<text y="694.92" fill="#231815" stroke="#231815" stroke-width="0.2" stroke-linejoin="round" transform="rotate(0.03 484.17 694.92)"><tspan x="398.14" y="694.92" font-size="16.16" font-weight="900" letter-spacing="-0.6" textLength="15.37" lengthAdjust="spacingAndGlyphs">約</tspan><tspan x="415.66" y="695.22" font-size="18.1" font-weight="700" letter-spacing="5" textLength="11.16" lengthAdjust="spacingAndGlyphs">1</tspan><tspan x="425.21" y="695.22" font-size="18.1" font-weight="700" letter-spacing="0.4" textLength="38.77" lengthAdjust="spacingAndGlyphs">350</tspan><tspan x="463.43" y="694.92" font-size="16.16" font-weight="900" letter-spacing="-0.6" textLength="15.37" lengthAdjust="spacingAndGlyphs">個</tspan><tspan x="479.1" y="694.92" font-size="18.1" font-weight="700" textLength="5.95" lengthAdjust="spacingAndGlyphs">(</tspan><tspan x="484.75" y="694.92" font-size="16.16" font-weight="900" letter-spacing="-0.6" textLength="15.37" lengthAdjust="spacingAndGlyphs">約</tspan><tspan x="502.27" y="695.22" font-size="18.1" font-weight="700" letter-spacing="5" textLength="11.16" lengthAdjust="spacingAndGlyphs">1</tspan><tspan x="511.83" y="695.22" font-size="18.1" font-weight="700" letter-spacing="0.4" textLength="25.84" lengthAdjust="spacingAndGlyphs">33</tspan><tspan x="539.27" y="695.22" font-size="18.1" font-weight="700" letter-spacing="5" textLength="11.16" lengthAdjust="spacingAndGlyphs">1</tspan><tspan x="548.29" y="694.92" font-size="16.16" font-weight="900" letter-spacing="-0.6" textLength="15.37" lengthAdjust="spacingAndGlyphs">個</tspan><tspan x="563.95" y="694.92" font-size="18.1" font-weight="700" textLength="5.95" lengthAdjust="spacingAndGlyphs">)</tspan></text>
<text y="730.01" fill="#231815" stroke="#231815" stroke-width="0.2" stroke-linejoin="round" transform="rotate(0.03 302.27 730.01)"><tspan x="273.23" y="730.01" font-size="15.22" font-weight="900" letter-spacing="-0.6" textLength="30.18" lengthAdjust="spacingAndGlyphs">実質</tspan><tspan x="304.1" y="730.31" font-size="18.56" font-weight="700" letter-spacing="0.6" textLength="13.54" lengthAdjust="spacingAndGlyphs">3</tspan><tspan x="317.55" y="730.31" font-size="18.56" font-weight="700" letter-spacing="0.6" textLength="13.74" lengthAdjust="spacingAndGlyphs">R</tspan></text>
<text y="746.79" fill="#231815" stroke="#231815" stroke-width="0.2" stroke-linejoin="round" transform="rotate(0.03 302.95 746.79)"><tspan x="279.13" y="746.79" font-size="15.42" font-weight="900" letter-spacing="-0.6" textLength="47.01" lengthAdjust="spacingAndGlyphs">大当り</tspan></text>
<text y="739.81" fill="#231815" stroke="#231815" stroke-width="0.2" stroke-linejoin="round" transform="rotate(0.03 485.51 739.81)"><tspan x="410.94" y="739.81" font-size="16.26" font-weight="900" letter-spacing="-0.6" textLength="15.13" lengthAdjust="spacingAndGlyphs">約</tspan><tspan x="426.61" y="740.11" font-size="18.22" font-weight="700" letter-spacing="0.4" textLength="38.15" lengthAdjust="spacingAndGlyphs">450</tspan><tspan x="464.23" y="739.81" font-size="16.26" font-weight="900" letter-spacing="-0.6" textLength="15.13" lengthAdjust="spacingAndGlyphs">個</tspan><tspan x="479.65" y="739.81" font-size="18.22" font-weight="700" textLength="5.86" lengthAdjust="spacingAndGlyphs">(</tspan><tspan x="485.22" y="739.81" font-size="16.26" font-weight="900" letter-spacing="-0.6" textLength="15.13" lengthAdjust="spacingAndGlyphs">約</tspan><tspan x="500.88" y="740.11" font-size="18.22" font-weight="700" letter-spacing="0.4" textLength="38.15" lengthAdjust="spacingAndGlyphs">442</tspan><tspan x="538.51" y="739.81" font-size="16.26" font-weight="900" letter-spacing="-0.6" textLength="15.13" lengthAdjust="spacingAndGlyphs">個</tspan><tspan x="553.93" y="739.81" font-size="18.22" font-weight="700" textLength="5.86" lengthAdjust="spacingAndGlyphs">)</tspan></text>
<text y="604.6" fill="#231815" stroke="#231815" stroke-width="0.2" stroke-linejoin="round" transform="rotate(0.03 302.11 604.6)"><tspan x="272.02" y="604.6" font-size="15.32" font-weight="900" textLength="60.17" lengthAdjust="spacingAndGlyphs">ラウンド</tspan></text>
<text y="604.3" fill="#231815" font-size="15.2" font-weight="900" stroke="#231815" stroke-width="0.3" stroke-linejoin="round" transform="rotate(0.03 485.85 604.3)"><tspan x="389.44 404.52 420.76 436.37 452.14 466.08" y="604.3">払い出し個数</tspan><tspan x="485.47" y="603.1" font-size="17" font-weight="700" textLength="5.66" lengthAdjust="spacingAndGlyphs">(</tspan><tspan x="491.52 507.88 524.27 540.34 555.98" y="604.3">実獲得個数</tspan><tspan x="572.18" y="603.1" font-size="17" font-weight="700" textLength="5.66" lengthAdjust="spacingAndGlyphs">)</tspan></text>
</g>
<text y="783.08" fill="#231815" transform="rotate(0.03 319.39 783.08)"><tspan x="174.93" font-size="11.44" font-weight="700" letter-spacing="0.5" textLength="289.43" lengthAdjust="spacingAndGlyphs">※実獲得個数はその他入賞口での獲得を加味した数値</tspan></text>
</svg>
</body>
</html>
